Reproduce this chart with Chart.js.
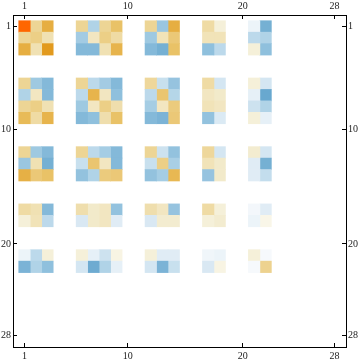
<!DOCTYPE html>
<html>
<head>
<meta charset="utf-8">
<script src="https://cdn.jsdelivr.net/npm/chart.js@4"></script>
<style>
  html, body { margin: 0; padding: 0; background: #fff; }
  #wrap { width: 360px; height: 363px; position: relative; }
</style>
</head>
<body>
<div id="wrap"><canvas id="matrix"></canvas></div>
<script>
// matrix positions that hold values (rows and columns of the non-empty blocks)
const rowNums = [1, 2, 3, 6, 7, 8, 9, 12, 13, 14, 17, 18, 21, 22];
const colNums = [1, 2, 3, 6, 7, 8, 9, 12, 13, 14, 17, 18, 21, 22];
const tickVals = [1, 10, 20, 28];

// values[rowIdx][colIdx] (negative = blue, positive = orange)
const values = [
  [1.0, 0.3, 0.6,     0.3, -0.3, 0.3, 0.45,     0.3, -0.4, 0.6,      0.25, 0.08,    -0.06, -0.58],
  [0.3, 0.35, 0.2,    -0.36, 0.15, 0.35, 0.25,  -0.38, 0.18, 0.4,    0.18, 0.18,    -0.25, -0.3],
  [0.6, 0.2, 0.75,    -0.5, -0.5, 0.2, 0.55,    -0.5, -0.58, 0.45,   -0.45, -0.25,  0.08, -0.45],
  [0.3, -0.38, -0.5,  0.3, -0.25, -0.36, -0.5,  0.28, -0.2, -0.42,   0.25, -0.15,   0.08, -0.15],
  [-0.3, 0.15, -0.5,  -0.25, 0.55, 0.15, -0.45, -0.25, 0.42, -0.28,  0.15, 0.12,    -0.08, -0.65],
  [0.3, 0.35, 0.2,    -0.38, 0.15, 0.35, 0.22,  -0.35, 0.15, 0.38,   0.18, 0.15,    -0.18, -0.3],
  [0.5, 0.25, 0.55,   -0.5, -0.45, 0.22, 0.45,  -0.5, -0.55, 0.4,    -0.43, -0.12,  0.08, -0.08],
  [0.3, -0.38, -0.5,  0.3, -0.25, -0.35, -0.5,  0.3, -0.18, -0.43,   0.28, -0.15,   0.1, -0.15],
  [-0.4, 0.2, -0.58,  -0.2, 0.42, 0.15, -0.5,   -0.2, 0.35, -0.33,   0.18, 0.12,    -0.1, -0.58],
  [0.58, 0.4, 0.45,   -0.43, -0.3, 0.38, 0.4,   -0.43, -0.35, 0.52,  -0.42, 0.12,   -0.1, -0.22],
  [0.25, 0.2, -0.5,   0.22, 0.12, 0.15, -0.43,  0.22, 0.15, -0.42,   0.25, 0.08,    -0.04, -0.1],
  [0.08, 0.18, -0.25, -0.13, 0.12, 0.15, -0.1,  -0.13, 0.1, 0.1,     0.08, 0.1,     -0.06, 0.05],
  [-0.06, -0.25, 0.08, 0.08, -0.08, -0.18, 0.06, 0.08, -0.1, -0.1,   -0.05, -0.06,  0.08, -0.03],
  [-0.55, -0.3, -0.45, -0.15, -0.62, -0.3, -0.08, -0.15, -0.55, -0.2, -0.13, 0.06,  -0.03, 0.32]
];

// blue - white - orange colour function
const stops = [
  [-0.7, [95, 162, 203]],
  [-0.5, [132, 185, 217]],
  [-0.3, [176, 211, 231]],
  [-0.1, [224, 236, 245]],
  [0.0, [255, 255, 255]],
  [0.1, [243, 236, 208]],
  [0.3, [237, 213, 149]],
  [0.5, [232, 187, 88]],
  [0.75, [226, 154, 30]],
  [1.0, [255, 102, 0]]
];
function colorOf(v) {
  if (v <= stops[0][0]) return `rgb(${stops[0][1].join(',')})`;
  for (let i = 1; i < stops.length; i++) {
    if (v <= stops[i][0]) {
      const [v0, c0] = stops[i - 1];
      const [v1, c1] = stops[i];
      const t = (v - v0) / (v1 - v0);
      const c = c0.map((a, k) => Math.round(a + (c1[k] - a) * t));
      return `rgb(${c.join(',')})`;
    }
  }
  return `rgb(${stops[stops.length - 1][1].join(',')})`;
}

// one floating-bar dataset per matrix column
const datasets = colNums.map((c, j) => ({
  data: rowNums.map(r => ({ x: [c - 0.5, c + 0.5], y: r })),
  backgroundColor: rowNums.map((r, i) => colorOf(values[i][j])),
  borderWidth: 0,
  barPercentage: 1,
  categoryPercentage: 1,
  grouped: false
}));

const tickFont = { family: "'Liberation Serif', serif", size: 10 };
const setTicks = scale => { scale.ticks = tickVals.map(v => ({ value: v })); };

function axis(position, reverse, size, pad) {
  const horiz = position === 'top' || position === 'bottom';
  return {
    type: 'linear',
    position: position,
    min: 0,
    max: 29,
    offset: false,
    reverse: reverse,
    afterBuildTicks: setTicks,
    afterFit: s => { if (horiz) s.height = size; else s.width = size; },
    border: { display: true, color: '#000', width: 1 },
    grid: { drawOnChartArea: false, drawTicks: true, tickLength: -4, color: '#000', lineWidth: 1, offset: false },
    ticks: { color: '#222', font: tickFont, padding: pad, maxRotation: 0, autoSkip: false }
  };
}

new Chart(document.getElementById('matrix').getContext('2d'), {
  type: 'bar',
  data: { datasets: datasets },
  options: {
    indexAxis: 'y',
    responsive: true,
    maintainAspectRatio: false,
    animation: false,
    layout: { padding: 0 },
    plugins: { legend: { display: false }, tooltip: { enabled: false } },
    scales: {
      x: axis('bottom', false, 16, 7),
      x2: axis('top', false, 15, 7),
      y: axis('left', true, 13, 6),
      y2: axis('right', true, 14, 6)
    }
  }
});
</script>
</body>
</html>
